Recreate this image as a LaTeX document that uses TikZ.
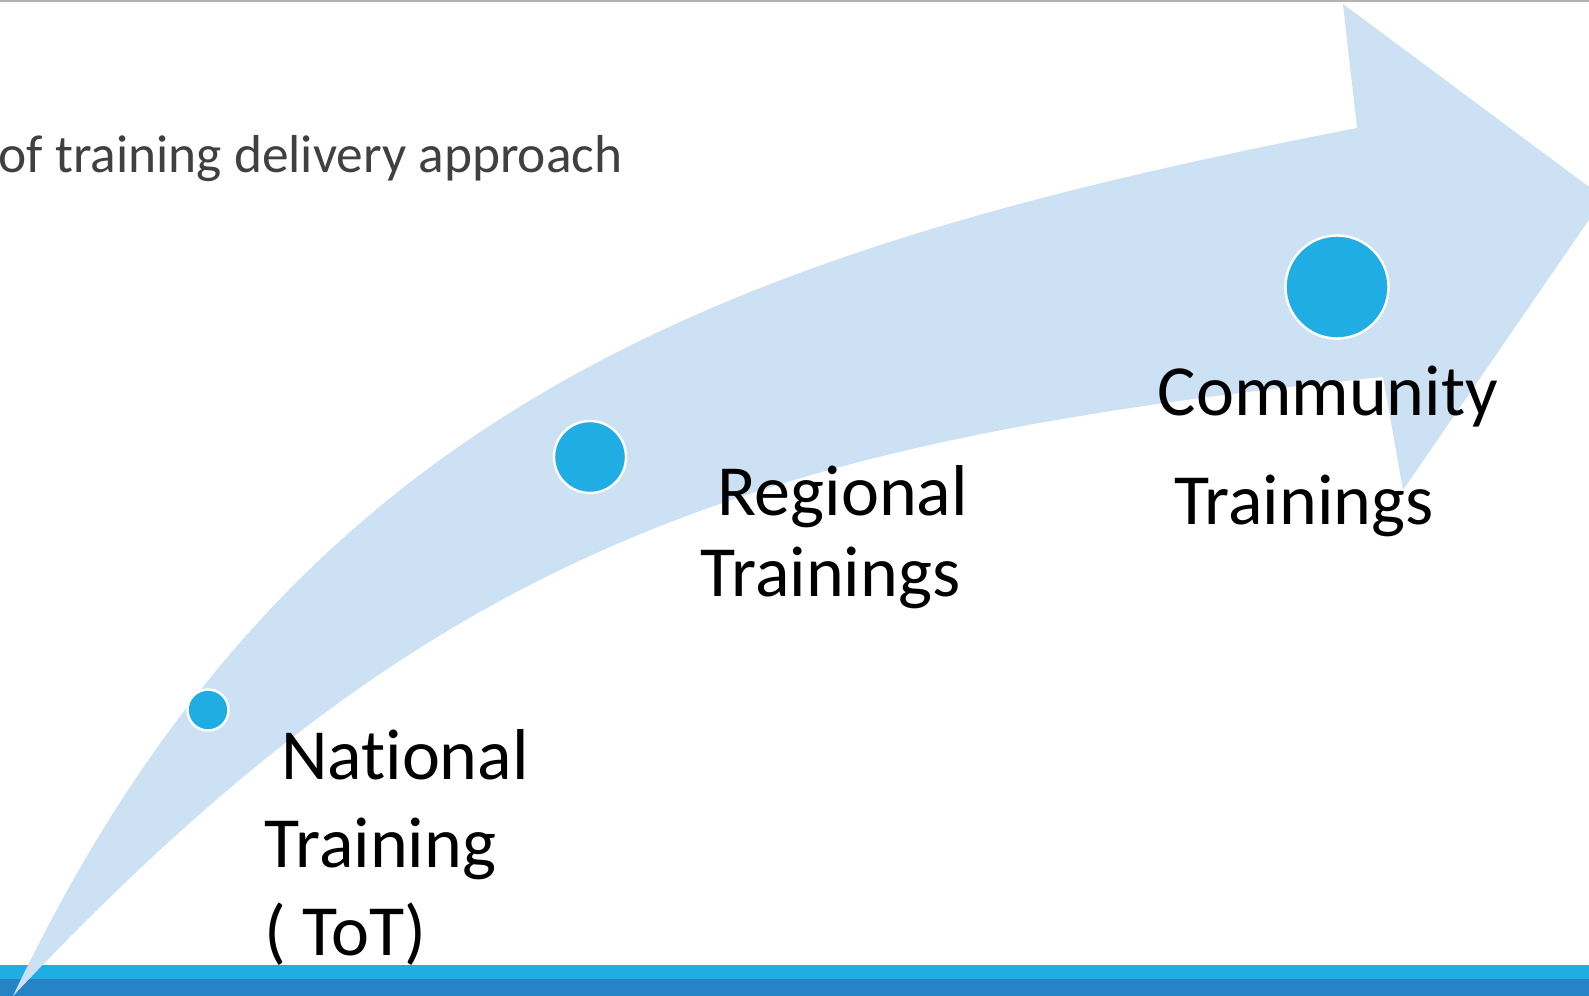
\documentclass[tikz,border=0pt]{standalone}
\usepackage{fontspec}
\setmainfont{Carlito}[Ligatures={NoCommon}]
\usetikzlibrary{positioning}

\definecolor{arrowblue}{HTML}{CCE2F4}
\definecolor{dotblue}{HTML}{1FADE4}
\definecolor{barlight}{HTML}{1FADE4}
\definecolor{bardark}{HTML}{2683C6}
\definecolor{subgray}{HTML}{404040}
\definecolor{topline}{HTML}{B3B3B3}

\begin{document}
\begin{tikzpicture}[x=0.25pt, y=-0.25pt,
    dot/.style={circle, fill=dotblue, draw=white, line width=0.6pt, inner sep=0pt},
    lbl/.style={anchor=base west, align=left, inner sep=0pt, font=\fontsize{18}{22}\selectfont}]
    \useasboundingbox (0,0) rectangle (1589,996);
    \clip (0,0) rectangle (1589,996);
    \fill[white] (0,0) rectangle (1589,996);
    \draw[topline, line width=0.5pt] (0,1) -- (1589,1);
    % bottom bars
    \fill[barlight] (0,965) rectangle (1589,979);
    \fill[bardark] (0,979) rectangle (1589,996);
    % curved arrow
    \fill[arrowblue] (13,996) .. controls (292,409) and (719,252) .. (1357,128)
        -- (1343,4) -- (1604,198) -- (1403,490) -- (1383,377)
        .. controls (736,442) and (425,559) .. (13,996) -- cycle;
    % stages (labels sit on their last baseline)
    \node[dot, minimum size=10.25pt] (natdot) at (208,710) {};
    \node[dot, minimum size=18pt] (regdot) at (590,457) {};
    \node[dot, minimum size=25.75pt] (comdot) at (1337,287) {};
    \node[lbl] (nat) at (264,955) {~National\\Training\\( ToT)};
    \node[lbl] (reg) at (700,596) {~Regional\\[-1.75pt]Trainings};
    \node[lbl] (com) at (1157,525) {Community\\[5.5pt]~Trainings};
    % title
    \node[anchor=base west, inner sep=0pt, text=subgray, font=\fontsize{13.35}{16}\selectfont] (title) at (-2,172) {of training delivery approach};
\end{tikzpicture}
\end{document}
